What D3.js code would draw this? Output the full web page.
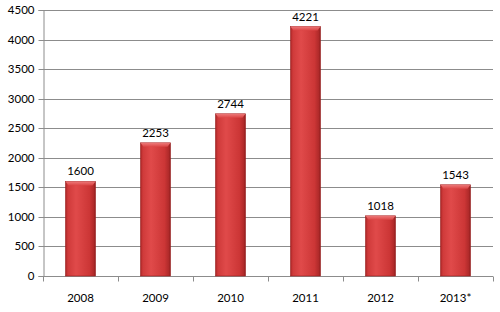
<!DOCTYPE html>
<html>
<head>
<meta charset="utf-8">
<script src="https://cdn.jsdelivr.net/npm/d3@7"></script>
<style>
  body { margin: 0; background: #fff; }
  text { font-family: Lato, "Open Sans", sans-serif; font-size: 11.5px; fill: #000; }
</style>
</head>
<body>
<svg id="chart" width="500" height="312"></svg>
<script>
// data
var categories = ["2008", "2009", "2010", "2011", "2012", "2013*"];
var values = [1600, 2253, 2744, 4221, 1018, 1543];
var yTicks = [0, 500, 1000, 1500, 2000, 2500, 3000, 3500, 4000, 4500];

var svg = d3.select("#chart");
var margin = { left: 43, right: 7, top: 10, bottom: 36 };
var width = 500 - margin.left - margin.right;
var height = 312 - margin.top - margin.bottom;

var defs = svg.append("defs");
var grad = defs.append("linearGradient").attr("id", "barGrad")
  .attr("x1", "0").attr("x2", "1").attr("y1", "0").attr("y2", "0");
grad.append("stop").attr("offset", "0").attr("stop-color", "#a82424");
grad.append("stop").attr("offset", "0.08").attr("stop-color", "#cf3a3a");
grad.append("stop").attr("offset", "0.35").attr("stop-color", "#e04a4a");
grad.append("stop").attr("offset", "0.8").attr("stop-color", "#cc3636");
grad.append("stop").attr("offset", "0.94").attr("stop-color", "#b02a2a");
grad.append("stop").attr("offset", "1").attr("stop-color", "#8e1c1c");

var topGrad = defs.append("linearGradient").attr("id", "topGrad")
  .attr("x1", "0").attr("x2", "0").attr("y1", "0").attr("y2", "1");
topGrad.append("stop").attr("offset", "0").attr("stop-color", "#f08080");
topGrad.append("stop").attr("offset", "1").attr("stop-color", "#dc4646");

var g = svg.append("g").attr("transform", `translate(${margin.left},${margin.top})`);

var x = d3.scaleBand().domain(categories).range([0, width]).paddingInner(0.6).paddingOuter(0.3);
var y = d3.scaleLinear().domain([0, 4500]).range([height, 0]);

// grid
g.append("g").selectAll("line").data(yTicks.slice(1)).enter().append("line")
  .attr("x1", 0).attr("x2", width)
  .attr("y1", d => Math.round(y(d)) + 0.5).attr("y2", d => Math.round(y(d)) + 0.5)
  .attr("stroke", "#8c8c8c").attr("stroke-width", 1);

// y axis
var yAxis = g.append("g").attr("transform", "translate(0.5,0)")
  .call(d3.axisLeft(y).tickValues(yTicks).tickFormat(d3.format("d")).tickSize(5).tickPadding(4));
yAxis.select(".domain").attr("stroke", "#8c8c8c");
yAxis.selectAll(".tick line").attr("stroke", "#8c8c8c");
yAxis.selectAll(".tick").attr("transform", d => `translate(0,${Math.round(y(d)) + 0.5})`);
yAxis.selectAll("text").style("font-family", "Lato, 'Open Sans', sans-serif").style("font-size", "11.5px");

// x axis
var xAxisG = g.append("g").attr("transform", `translate(0,${Math.round(height) + 0.5})`);
xAxisG.append("line").attr("x1", 0).attr("x2", width).attr("stroke", "#8c8c8c");
var step = x.step();
xAxisG.selectAll(".xt").data(d3.range(categories.length + 1)).enter().append("line")
  .attr("x1", i => Math.round(i * step) + 0.5).attr("x2", i => Math.round(i * step) + 0.5)
  .attr("y1", 0).attr("y2", 5).attr("stroke", "#8c8c8c");
xAxisG.selectAll("text").data(categories).enter().append("text")
  .attr("x", d => x(d) + x.bandwidth() / 2).attr("y", 25)
  .attr("text-anchor", "middle").text(d => d);

// bars
var bars = g.append("g").selectAll("g").data(values).enter().append("g");
bars.append("rect")
  .attr("x", (d, i) => x(categories[i]))
  .attr("y", d => y(d))
  .attr("width", x.bandwidth())
  .attr("height", d => height - y(d))
  .attr("fill", "url(#barGrad)")
  .attr("stroke", "#9a2020").attr("stroke-width", 0.6);
// top bevel
bars.append("path")
  .attr("d", (d, i) => {
    var x0 = x(categories[i]), x1 = x0 + x.bandwidth(), y0 = y(d);
    return `M${x0},${y0}L${x1},${y0}L${x1 - 3},${y0 + 4}L${x0 + 3},${y0 + 4}Z`;
  })
  .attr("fill", "url(#topGrad)").attr("opacity", 0.9);

// value labels
bars.append("text")
  .attr("x", (d, i) => x(categories[i]) + x.bandwidth() / 2)
  .attr("y", d => y(d) - 6)
  .attr("text-anchor", "middle")
  .text(d => d);
</script>
</body>
</html>
